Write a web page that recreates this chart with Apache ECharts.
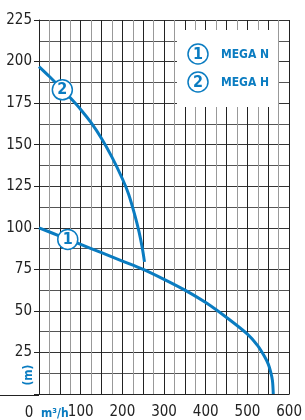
<!DOCTYPE html>
<html>
<head>
<meta charset="utf-8">
<script src="https://cdn.jsdelivr.net/npm/echarts@6/dist/echarts.min.js"></script>
<style>
  html, body { margin: 0; padding: 0; background: #fff; }
  #chart { width: 305px; height: 420px; }
</style>
</head>
<body>
<div id="chart"></div>
<script>
// 流量 (m3/h) 与扬程 (m)
const flowN = [0, 50, 100, 150, 200, 250, 300, 350, 400, 450, 500, 525, 540, 550, 556, 560, 562];
const headN = [100, 95, 90, 85, 80, 75, 69, 62.5, 55, 46, 36, 29, 23, 18, 13, 8, 0];
const flowH = [0, 25, 50, 75, 100, 125, 150, 175, 200, 215, 230, 240, 248, 253];
const headH = [197, 191, 184.7, 178.2, 171.2, 163.2, 153.7, 142.5, 129.5, 120.2, 107.5, 97.5, 87.5, 79.5];

const curveNames = ['MEGA N', 'MEGA H'];
const curveTags = ['1', '2'];
const tagPosN = [69, 93];
const tagPosH = [56, 183];

const blue = '#0a7cc1';
const font = "'Liberation Sans Narrow', 'DejaVu Sans Condensed', sans-serif";

function pairs(xs, ys) {
    return xs.map((x, i) => [x, ys[i]]);
}

// 曲线上的编号圆圈
function tagPoint(pos, text) {
    return {
        symbol: 'circle',
        symbolSize: 20,
        itemStyle: { color: '#fff', borderColor: blue, borderWidth: 1.5 },
        label: { show: true, position: 'inside', color: blue, fontSize: 16, fontWeight: 'bold', fontFamily: font },
        data: [{ coord: pos, value: text }],
        animation: false
    };
}

const chart = echarts.init(document.getElementById('chart'));
chart.setOption({
    animation: false,
    grid: { left: 39, right: 15, top: 20, bottom: 25 },
    xAxis: {
        type: 'value',
        min: 0,
        max: 600,
        interval: 50,
        axisLine: { show: true, onZero: false, lineStyle: { color: '#222', width: 1 } },
        axisTick: { show: false },
        axisLabel: {
            margin: 11,
            color: '#222',
            fontSize: 15,
            fontFamily: font,
            formatter: v => (v % 100 === 0 && v > 0) ? String(v) : ''
        },
        splitLine: { show: true, lineStyle: { color: '#222', width: 1 } },
        minorTick: { show: false, splitNumber: 2 },
        minorSplitLine: { show: true, lineStyle: { color: '#999', width: 1 } }
    },
    yAxis: {
        type: 'value',
        min: 0,
        max: 225,
        interval: 25,
        axisLine: { show: true, lineStyle: { color: '#222', width: 1 } },
        axisTick: { show: true, length: 5, lineStyle: { color: '#222' } },
        axisLabel: {
            margin: 7,
            color: '#222',
            fontSize: 15,
            fontFamily: font,
            formatter: v => v > 0 ? String(v) : ''
        },
        splitLine: { show: true, lineStyle: { color: '#333', width: 1 } },
        minorTick: { show: false, splitNumber: 2 },
        minorSplitLine: { show: true, lineStyle: { color: '#555', width: 1 } }
    },
    series: [
        {
            name: curveNames[0],
            type: 'line',
            data: pairs(flowN, headN),
            smooth: 0.3,
            showSymbol: false,
            lineStyle: { color: blue, width: 3 },
            z: 3,
            markPoint: tagPoint(tagPosN, curveTags[0])
        },
        {
            name: curveNames[1],
            type: 'line',
            data: pairs(flowH, headH),
            smooth: 0.3,
            showSymbol: false,
            lineStyle: { color: blue, width: 3 },
            z: 3,
            markPoint: tagPoint(tagPosH, curveTags[1])
        }
    ],
    graphic: [
        // 图例框
        { type: 'rect', left: 177, top: 30, z: 50, shape: { width: 101, height: 77 }, style: { fill: '#fff' } },
        { type: 'circle', z: 51, shape: { cx: 198, cy: 54, r: 10 }, style: { fill: '#fff', stroke: blue, lineWidth: 1.5 } },
        { type: 'circle', z: 51, shape: { cx: 198, cy: 82, r: 10 }, style: { fill: '#fff', stroke: blue, lineWidth: 1.5 } },
        { type: 'text', z: 52, x: 198, y: 55, style: { text: curveTags[0], fill: blue, font: 'bold 16px ' + font, textAlign: 'center', textVerticalAlign: 'middle' } },
        { type: 'text', z: 52, x: 198, y: 83, style: { text: curveTags[1], fill: blue, font: 'bold 16px ' + font, textAlign: 'center', textVerticalAlign: 'middle' } },
        { type: 'text', z: 52, x: 221, y: 55, style: { text: curveNames[0], fill: blue, font: 'bold 12px ' + font, textVerticalAlign: 'middle' } },
        { type: 'text', z: 52, x: 221, y: 83, style: { text: curveNames[1], fill: blue, font: 'bold 12px ' + font, textVerticalAlign: 'middle' } },
        // 坐标轴附加文字
        { type: 'line', z: 10, shape: { x1: 0, y1: 395.5, x2: 39, y2: 395.5 }, style: { stroke: '#222', lineWidth: 1 } },
        { type: 'text', z: 10, x: 29, y: 413, style: { text: '0', fill: '#222', font: '15px ' + font, textAlign: 'center', textVerticalAlign: 'middle' } },
        { type: 'text', z: 10, x: 41, y: 414, style: { text: 'm³/h', fill: blue, font: 'bold 12px ' + font, textVerticalAlign: 'middle' } },
        { type: 'text', z: 10, x: 29, y: 375, rotation: Math.PI / 2, style: { text: '(m)', fill: blue, font: 'bold 12px ' + font, textAlign: 'center', textVerticalAlign: 'middle' } }
    ]
});
</script>
</body>
</html>
